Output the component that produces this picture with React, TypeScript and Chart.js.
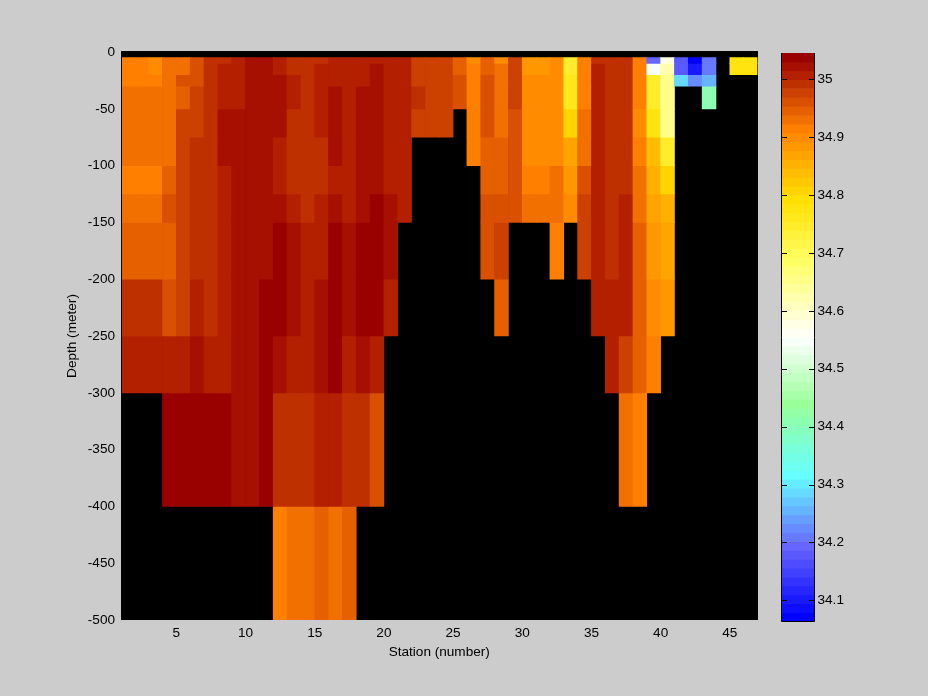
import React, { useEffect, useRef } from "react";
import { Chart, registerables } from "chart.js";

Chart.register(...registerables);

const n = null;
const depthEdges = [5, 10, 20, 30, 50, 75, 100, 125, 150, 200, 250, 300, 400, 500];
const xTickValues = [5, 10, 15, 20, 25, 30, 35, 40, 45];
const yTickValues = [0, -50, -100, -150, -200, -250, -300, -350, -400, -450, -500];
const colorbarTicks = [34.1, 34.2, 34.3, 34.4, 34.5, 34.6, 34.7, 34.8, 34.9, 35];
const colorMin = 34.0634;
const colorMax = 35.0454;

const d5 = [34.92,34.92,34.90,34.93,34.93,34.96,34.99,34.99,35.01,35.02,35.02,35.01,34.99,34.99,34.99,35.01,35.01,35.01,35.01,35.01,35.01,34.98,34.98,34.98,34.95,34.90,34.95,34.90,34.98,34.88,34.88,34.90,34.75,34.92,34.99,34.99,34.99,34.92,34.19,34.58,34.18,34.07,34.21,n,34.78,34.78];
const d10 = [34.92,34.92,34.90,34.93,34.93,34.96,34.99,35.01,35.01,35.02,35.02,35.01,34.99,34.99,35.01,35.01,35.01,35.01,35.02,35.01,35.01,34.98,34.98,34.98,34.95,34.92,34.95,34.93,34.98,34.88,34.88,34.90,34.75,34.92,35.01,34.99,34.99,34.92,34.55,34.62,34.18,34.10,34.21,n,34.78,34.78];
const d20 = [34.92,34.92,34.92,34.93,34.96,34.96,34.99,35.01,35.01,35.02,35.02,35.02,35.01,34.99,35.01,35.01,35.01,35.01,35.02,35.01,35.01,34.98,34.98,34.98,34.96,34.92,34.96,34.93,34.98,34.90,34.90,34.90,34.76,34.92,35.01,34.99,34.99,34.92,34.75,34.65,34.29,34.23,34.26,n,n,n];
const d30 = [34.93,34.93,34.93,34.93,34.95,34.98,34.99,35.01,35.01,35.02,35.02,35.02,35.01,34.99,35.01,35.02,35.01,35.02,35.02,35.01,35.01,34.99,34.98,34.98,34.96,34.92,34.96,34.93,34.98,34.90,34.90,34.90,34.76,34.92,35.01,34.99,34.99,34.92,34.75,34.65,n,n,34.41,n,n,n];
const d50 = [34.93,34.93,34.93,34.93,34.98,34.98,34.99,35.02,35.02,35.02,35.02,35.02,34.99,34.99,35.01,35.02,35.01,35.02,35.02,35.01,35.01,34.98,34.98,34.98,n,34.92,34.96,34.93,34.96,34.90,34.90,34.90,34.81,34.93,35.01,34.99,34.99,34.90,34.78,34.65,n,n,n,n,n,n];
const d75 = [34.93,34.93,34.93,34.93,34.98,34.99,34.99,35.02,35.02,35.02,35.02,35.01,34.99,34.99,34.99,35.02,35.01,35.02,35.02,35.01,35.01,n,n,n,n,34.92,34.95,34.95,34.96,34.90,34.90,34.90,34.87,34.93,35.01,34.99,34.99,34.92,34.84,34.75,n,n,n,n,n,n];
const d100 = [34.92,34.92,34.92,34.95,34.98,34.99,34.99,35.01,35.02,35.02,35.02,35.01,34.99,34.99,34.99,35.01,35.01,35.02,35.02,35.01,35.01,n,n,n,n,n,34.95,34.95,34.96,34.92,34.92,34.93,34.88,34.96,35.01,34.99,34.99,34.93,34.85,34.81,n,n,n,n,n,n];
const d125 = [34.93,34.93,34.93,34.96,34.98,34.99,34.99,35.01,35.02,35.02,35.02,35.02,35.01,34.99,35.01,35.02,35.01,35.02,35.04,35.02,35.01,n,n,n,n,n,34.96,34.96,34.96,34.93,34.93,34.93,34.90,34.98,35.01,34.99,35.01,34.93,34.87,34.85,n,n,n,n,n,n];
const d150 = [34.95,34.95,34.95,34.95,34.98,34.99,34.99,35.01,35.02,35.02,35.02,35.04,35.02,35.01,35.01,35.04,35.02,35.04,35.04,35.02,n,n,n,n,n,n,34.96,34.98,n,n,n,34.92,n,34.98,35.01,34.99,35.01,34.95,34.88,34.87,n,n,n,n,n,n];
const d200 = [34.99,34.99,34.99,34.96,34.98,35.01,34.99,35.01,35.02,35.02,35.04,35.04,35.02,35.01,35.02,35.04,35.02,35.04,35.04,35.01,n,n,n,n,n,n,n,34.95,n,n,n,n,n,n,35.01,35.01,35.01,34.95,34.90,34.88,n,n,n,n,n,n];
const d250 = [35.01,35.01,35.01,35.01,35.01,35.02,35.01,35.01,35.02,35.02,35.04,35.02,35.01,35.01,35.02,35.04,35.01,35.02,35.01,n,n,n,n,n,n,n,n,n,n,n,n,n,n,n,n,35.01,34.98,34.95,34.92,n,n,n,n,n,n,n];
const d300 = [n,n,n,35.04,35.04,35.04,35.04,35.04,35.02,35.02,35.04,34.99,34.99,34.99,35.01,35.01,34.99,34.99,34.96,n,n,n,n,n,n,n,n,n,n,n,n,n,n,n,n,n,34.93,34.92,n,n,n,n,n,n,n,n];
const d400 = [n,n,n,n,n,n,n,n,n,n,n,34.92,34.93,34.93,34.95,34.93,34.95,n,n,n,n,n,n,n,n,n,n,n,n,n,n,n,n,n,n,n,n,n,n,n,n,n,n,n,n,n];
const layers = [d5, d10, d20, d30, d50, d75, d100, d125, d150, d200, d250, d300, d400];

// Colormap stops: [level 0..63, r, g, b]
const colorStops = [
  [0, 0, 0, 255], [8, 102, 102, 255], [16, 102, 255, 255], [24, 153, 255, 153],
  [31.5, 255, 255, 255], [40, 255, 255, 102], [47, 255, 224, 0], [55, 255, 128, 0], [63, 153, 0, 0],
];
const levelCount = 64;

function levelColor(level: number) {
  for (let i = 1; i < colorStops.length; i++) {
    const a = colorStops[i - 1], b = colorStops[i];
    if (level <= b[0]) {
      const t = (level - a[0]) / (b[0] - a[0]);
      const c = [1, 2, 3].map((k) => Math.round(a[k] + (b[k] - a[k]) * t));
      return `rgb(${c[0]},${c[1]},${c[2]})`;
    }
  }
  return "rgb(153,0,0)";
}
function valueColor(v: number) {
  const lv = Math.floor(((v - colorMin) / (colorMax - colorMin)) * levelCount);
  return levelColor(Math.max(0, Math.min(levelCount - 1, lv)));
}

const FONT = { family: "'Liberation Sans', Arial, sans-serif", size: 13.6 };
const PLOT = { left: 121, right: 757.5, top: 52, bottom: 620 };
const BAR = { left: 781.5, right: 814.5, top: 53, bottom: 621.5 };
const W = 928, H = 696;

export default function App() {
  const mainRef = useRef<HTMLCanvasElement>(null);
  const barRef = useRef<HTMLCanvasElement>(null);

  useEffect(() => {
    document.body.style.margin = "0";
    const datasets = layers.map((row, li) => {
      const top = depthEdges[li];
      const bottom = depthEdges[li + 1];
      const data: any[] = [];
      const colors: string[] = [];
      row.forEach((v, i) => {
        if (v === null) return;
        data.push({ x: i + 1.5, y: [-bottom, -top] });
        colors.push(valueColor(v));
      });
      return { data, backgroundColor: colors, borderWidth: 0, barPercentage: 1, categoryPercentage: 1, grouped: false };
    });

    const blackPanel = {
      id: "blackPanel",
      beforeDatasetsDraw(chart: any) {
        const { ctx, chartArea: a } = chart;
        ctx.save();
        ctx.fillStyle = "#000";
        ctx.fillRect(a.left, a.top - 1, 637, a.bottom - a.top + 1);
        ctx.restore();
      },
      afterDatasetsDraw(chart: any) {
        const { ctx, chartArea: a } = chart;
        ctx.save();
        ctx.fillStyle = "#000";
        ctx.fillRect(a.left, a.top - 1, 1, a.bottom - a.top + 1);
        ctx.restore();
      },
    };

    const main = new Chart(mainRef.current!, {
      type: "bar",
      data: { datasets: datasets as any },
      plugins: [blackPanel],
      options: {
        responsive: false,
        animation: false,
        devicePixelRatio: 1,
        layout: { padding: { left: 0, top: PLOT.top, right: W - PLOT.right, bottom: 0 } },
        plugins: { legend: { display: false }, tooltip: { enabled: false } },
        scales: {
          x: {
            type: "linear",
            offset: false,
            min: 1,
            max: 47,
            afterBuildTicks: (s: any) => { s.ticks = xTickValues.map((value) => ({ value })); },
            afterFit: (s: any) => { s.height = H - PLOT.bottom; },
            grid: { display: false, tickLength: 0 },
            border: { display: false },
            ticks: { color: "#000", font: FONT, padding: 5, maxRotation: 0, autoSkip: false },
            title: { display: true, text: "Station (number)", color: "#000", font: FONT, padding: { top: 0, bottom: 36 } },
          },
          y: {
            type: "linear",
            min: -500,
            max: 0,
            afterBuildTicks: (s: any) => { s.ticks = yTickValues.map((value) => ({ value })); },
            afterFit: (s: any) => { s.width = PLOT.left; },
            grid: { display: false, tickLength: 0 },
            border: { display: false },
            ticks: { color: "#000", font: FONT, padding: 6, autoSkip: false },
            title: { display: true, text: "Depth (meter)", color: "#000", font: FONT, padding: { top: 64, bottom: 0 } },
          },
        },
      } as any,
    });

    const span = (colorMax - colorMin) / levelCount;
    const levelIdx = Array.from({ length: levelCount }, (_, i) => i);
    const barTicks = {
      id: "barTicks",
      afterDatasetsDraw(chart: any) {
        const { ctx, chartArea: a, scales } = chart;
        ctx.save();
        ctx.strokeStyle = "#000";
        ctx.lineWidth = 1;
        colorbarTicks.forEach((t) => {
          const y = Math.round(scales.y.getPixelForValue(t)) + 0.5;
          ctx.beginPath();
          ctx.moveTo(a.left, y); ctx.lineTo(a.left + 5.5, y);
          ctx.moveTo(a.right - 5.5, y); ctx.lineTo(a.right, y);
          ctx.stroke();
        });
        ctx.beginPath();
        ctx.moveTo(a.left, a.top); ctx.lineTo(a.left, a.bottom);
        ctx.lineTo(a.right, a.bottom); ctx.lineTo(a.right, a.top);
        ctx.stroke();
        ctx.restore();
      },
    };
    const bar = new Chart(barRef.current!, {
      type: "bar",
      data: {
        datasets: [{
          data: levelIdx.map((i) => ({ x: 0.5, y: [colorMin + i * span, colorMin + (i + 1) * span] })),
          backgroundColor: levelIdx.map((i) => levelColor(i)),
          borderWidth: 0, barPercentage: 1, categoryPercentage: 1,
        }] as any,
      },
      plugins: [barTicks],
      options: {
        responsive: false,
        animation: false,
        devicePixelRatio: 1,
        layout: { padding: { left: BAR.left, top: BAR.top, right: 0, bottom: H - BAR.bottom } },
        plugins: { legend: { display: false }, tooltip: { enabled: false } },
        scales: {
          x: { type: "linear", offset: false, min: 0, max: 1, display: false },
          y: {
            type: "linear",
            position: "right",
            min: colorMin,
            max: colorMax,
            afterBuildTicks: (s: any) => { s.ticks = colorbarTicks.map((value) => ({ value })); },
            afterFit: (s: any) => { s.width = W - BAR.right; },
            grid: { display: false, tickLength: 0 },
            border: { display: false },
            ticks: {
              color: "#000", font: FONT, padding: 3, autoSkip: false,
              callback: (v: any) => String(Math.round(v * 10) / 10),
            },
          },
        },
      } as any,
    });

    return () => { main.destroy(); bar.destroy(); };
  }, []);

  return (
    <div style={{ position: "fixed", left: 0, top: 0, width: W, height: H, background: "#cccccc", overflow: "hidden" }}>
      <canvas ref={mainRef} width={W} height={H} style={{ position: "absolute", left: 0, top: 0, display: "block" }} />
      <canvas ref={barRef} width={W} height={H} style={{ position: "absolute", left: 0, top: 0, display: "block" }} />
    </div>
  );
}
